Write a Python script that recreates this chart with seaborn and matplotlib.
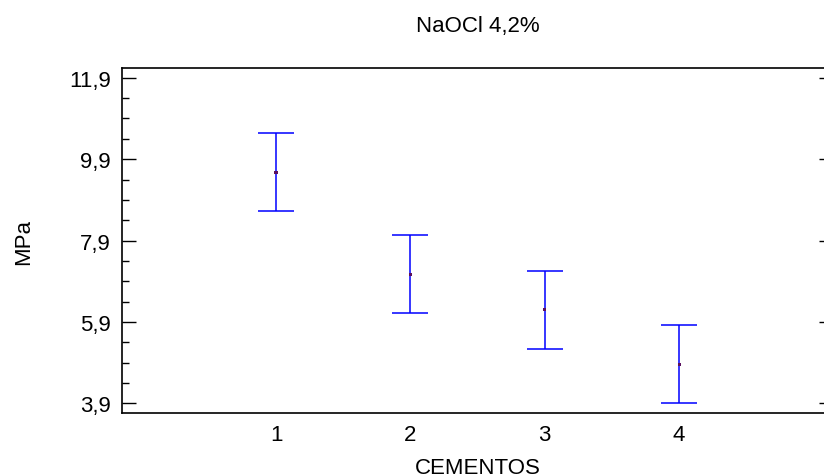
import matplotlib
matplotlib.use("Agg")
import matplotlib.pyplot as plt
from matplotlib.ticker import FixedLocator, MultipleLocator, FuncFormatter
import seaborn as sns
import pandas as pd

categories = [1, 2, 3, 4]
means = [9.58, 7.07, 6.20, 4.86]
half_widths = [0.955, 0.955, 0.955, 0.955]
y_ticks = [3.9, 5.9, 7.9, 9.9, 11.9]
x_labels = ["1", "2", "3", "4"]

sns.set_theme(style="white")
plt.rcParams['font.family'] = ['Liberation Sans', 'DejaVu Sans']

df = pd.DataFrame({"CEMENTOS": categories, "MPa": means, "err": half_widths})

fig = plt.figure(figsize=(8.24, 4.77), dpi=100)
ax = fig.add_axes([0.1481, 0.1314, 0.8629, 0.7239])

ax.errorbar(df["CEMENTOS"], df["MPa"], yerr=df["err"], fmt="none",
            ecolor="#0000ff", elinewidth=1.1, capsize=13, capthick=1.1)
sns.scatterplot(data=df, x="CEMENTOS", y="MPa", ax=ax, color="#5a1060",
                s=5, marker="s", edgecolor="none", zorder=3)

ax.set_xlim(1 - 1.146, 4 + 1.146)
ax.set_ylim(3.655, 12.14)
ax.yaxis.set_major_locator(FixedLocator(y_ticks))
ax.yaxis.set_minor_locator(MultipleLocator(0.5, offset=3.9))
ax.yaxis.set_major_formatter(FuncFormatter(lambda v, p: f"{v:.1f}".replace(".", ",")))
ax.set_xticks(categories)
ax.set_xticklabels(x_labels)

ax.tick_params(axis="y", which="major", direction="in", length=10, width=1.0,
               color="black", labelsize=16, left=True, right=True, pad=8,
               labelcolor="black")
ax.tick_params(axis="y", which="minor", direction="in", length=5, width=1.0,
               color="black", left=True, right=True)
ax.tick_params(axis="x", which="both", length=0, labelsize=16, pad=8,
               labelcolor="black")

for s in ax.spines.values():
    s.set_color("black")
    s.set_linewidth(1.2)
    s.set_visible(True)

ax.set_xlabel("CEMENTOS", fontsize=16, color="black", labelpad=8)
ax.set_ylabel("MPa", fontsize=16, color="black", labelpad=25)
ax.set_title("NaOCl 4,2%", fontsize=16, color="black", pad=26.6)
ax.grid(False)

fig.savefig("out.png", dpi=100, facecolor="white")
